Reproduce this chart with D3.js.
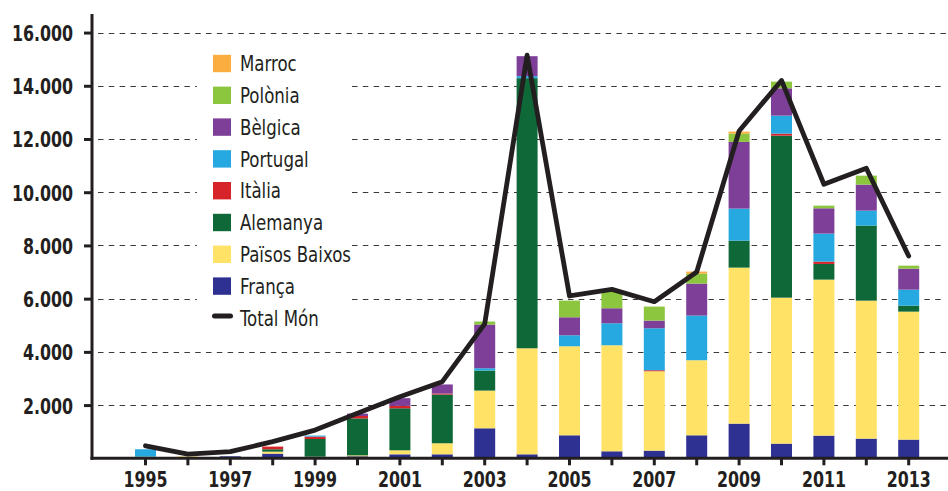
<!DOCTYPE html>
<html>
<head>
<meta charset="utf-8">
<script src="https://cdn.jsdelivr.net/npm/d3@7"></script>
<style>
  body { margin: 0; background: #fff; }
  svg { display: block; }
  .tick-label { font-family: "Liberation Sans Narrow", "DejaVu Sans Condensed", "Arial Narrow", sans-serif; font-weight: bold; fill: #231f20; }
  .legend-label { font-family: "Liberation Sans Narrow", "DejaVu Sans Condensed", "Arial Narrow", sans-serif; fill: #231f20; }
</style>
</head>
<body>
<div id="chart"></div>
<script>
// data
const years = [1995, 1996, 1997, 1998, 1999, 2000, 2001, 2002, 2003, 2004,
               2005, 2006, 2007, 2008, 2009, 2010, 2011, 2012, 2013];

const franca       = [0, 0, 75, 175, 0, 75, 150, 150, 1128, 150, 865, 263, 288, 865, 1303, 551, 852, 739, 702];
const paisosBaixos = [60, 70, 0, 75, 60, 35, 150, 415, 1417, 3985, 3345, 3985, 2983, 2820, 5863, 5487, 5863, 5186, 4810];
const alemanya     = [0, 0, 0, 90, 665, 1390, 1580, 1830, 752, 10150, 0, 0, 0, 0, 1015, 6088, 589, 2819, 225];
const italia       = [0, 0, 0, 100, 90, 90, 90, 40, 0, 0, 0, 0, 38, 0, 0, 75, 88, 0, 0];
const portugal     = [280, 0, 0, 0, 40, 0, 0, 0, 88, 75, 413, 827, 1579, 1679, 1203, 677, 1052, 564, 601];
const belgica      = [0, 0, 0, 0, 0, 90, 290, 340, 1642, 752, 677, 564, 288, 1203, 2506, 1027, 952, 977, 789];
const polonia      = [0, 0, 0, 0, 0, 0, 0, 0, 113, 0, 627, 639, 526, 376, 313, 251, 100, 338, 113];
const marroc       = [0, 0, 0, 0, 0, 0, 0, 0, 0, 0, 0, 0, 0, 75, 75, 0, 0, 0, 0];
const totalMon     = [470, 160, 250, 625, 1060, 1690, 2315, 2880, 5050, 15150, 6100, 6350, 5885, 7000, 12300, 14200, 10300, 10900, 7600];

const yTicks = [2000, 4000, 6000, 8000, 10000, 12000, 14000, 16000];

// series, bottom of the stack first
const seriesNames = ['França', 'Països Baixos', 'Alemanya', 'Itàlia', 'Portugal', 'Bèlgica', 'Polònia', 'Marroc'];
const seriesValues = [franca, paisosBaixos, alemanya, italia, portugal, belgica, polonia, marroc];
const seriesColors = ['#2e3192', '#ffe266', '#0e6838', '#d7232a', '#25a9e0', '#7d3f97', '#8cc63f', '#fbad3f'];

const width = 948;
const height = 491;

const rows = years.map((y, i) => {
    const row = { year: y };
    seriesNames.forEach((name, k) => { row[name] = seriesValues[k][i]; });
    return row;
});

const svg = d3.select('#chart')
    .append('svg')
    .attr('width', width)
    .attr('height', height);

const xScale = d3.scaleBand()
    .domain(years)
    .range([124.3, 929.9])
    .paddingInner(0.505)
    .paddingOuter(0.2525);

const yScale = d3.scaleLinear()
    .domain([0, 16660])
    .range([458.3, 15]);

const color = d3.scaleOrdinal()
    .domain(seriesNames)
    .range(seriesColors);

// gridlines (broken behind the legend)
const grid = svg.append('g')
    .attr('stroke', '#3a3a3a')
    .attr('stroke-width', 1.2)
    .attr('stroke-dasharray', '5.5,5.3');

yTicks.forEach(t => {
    const y = Math.round(yScale(t)) + 0.5;
    const behindLegend = t >= 6000 && t <= 14000;
    if (behindLegend) {
        grid.append('line').attr('x1', 98).attr('x2', 197).attr('y1', y).attr('y2', y);
        grid.append('line').attr('x1', 352).attr('x2', 946).attr('y1', y).attr('y2', y);
    } else {
        grid.append('line').attr('x1', 98).attr('x2', 946).attr('y1', y).attr('y2', y);
    }
});

// stacked bars
const stack = d3.stack().keys(seriesNames);
const series = stack(rows);

svg.append('g')
    .selectAll('g')
    .data(series)
    .join('g')
    .attr('fill', d => color(d.key))
    .selectAll('rect')
    .data(d => d.filter(p => p[1] - p[0] > 0))
    .join('rect')
    .attr('x', d => xScale(d.data.year))
    .attr('y', d => yScale(d[1]))
    .attr('height', d => yScale(d[0]) - yScale(d[1]))
    .attr('width', xScale.bandwidth());

// total line
const line = d3.line()
    .x((d, i) => xScale(years[i]) + xScale.bandwidth() / 2)
    .y(d => yScale(d));

svg.append('path')
    .datum(totalMon)
    .attr('fill', 'none')
    .attr('stroke', '#231f20')
    .attr('stroke-width', 4.8)
    .attr('stroke-linejoin', 'round')
    .attr('stroke-linecap', 'round')
    .attr('d', line);

// x axis
const xAxis = svg.append('g')
    .attr('transform', `translate(0,${yScale(0)})`)
    .call(d3.axisBottom(xScale).tickSize(7).tickSizeOuter(0).tickFormat(d => d % 2 === 1 ? d : ''));
xAxis.select('.domain').remove();
xAxis.selectAll('.tick line').attr('stroke', '#231f20').attr('stroke-width', 3);
xAxis.selectAll('.tick text')
    .attr('class', 'tick-label')
    .attr('y', 0)
    .attr('dy', null)
    .attr('transform', 'translate(0,28.5) scale(0.8,1)')
    .style('font-size', '22px');
xAxis.append('line')
    .attr('x1', 90.5).attr('x2', width)
    .attr('y1', 0).attr('y2', 0)
    .attr('stroke', '#231f20')
    .attr('stroke-width', 3);

// y axis
const yAxis = svg.append('g')
    .attr('transform', 'translate(92,0)')
    .call(d3.axisLeft(yScale).tickValues(yTicks).tickSize(8).tickSizeOuter(0)
        .tickFormat(d => d3.format(',')(d).replace(',', '.')));
yAxis.select('.domain').remove();
yAxis.selectAll('.tick line').attr('stroke', '#231f20').attr('stroke-width', 3);
yAxis.selectAll('.tick text')
    .attr('class', 'tick-label')
    .attr('x', 0)
    .attr('dy', '0.36em')
    .attr('transform', 'translate(-19,0) scale(0.8,1)')
    .style('font-size', '22px');
yAxis.append('line')
    .attr('x1', 0).attr('x2', 0)
    .attr('y1', 14).attr('y2', yScale(0) + 1.5)
    .attr('stroke', '#231f20')
    .attr('stroke-width', 3);

// legend
const legendItems = seriesNames.slice().reverse().concat(['Total Món']);
const legend = svg.append('g')
    .selectAll('g')
    .data(legendItems)
    .join('g')
    .attr('transform', (d, i) => `translate(213,${63.5 + i * 31.8})`);

legend.filter(d => d !== 'Total Món')
    .append('rect')
    .attr('y', -8.7)
    .attr('width', 18)
    .attr('height', 17.4)
    .attr('fill', d => color(d));

legend.filter(d => d === 'Total Món')
    .append('line')
    .attr('x1', 1.5).attr('x2', 17.5)
    .attr('y1', -2).attr('y2', -2)
    .attr('stroke', '#231f20')
    .attr('stroke-width', 5)
    .attr('stroke-linecap', 'round');

legend.append('text')
    .attr('class', 'legend-label')
    .attr('x', 0)
    .attr('dy', '0.35em')
    .attr('transform', 'translate(27,0) scale(0.84,1)')
    .style('font-size', '22px')
    .text(d => d);
</script>
</body>
</html>
